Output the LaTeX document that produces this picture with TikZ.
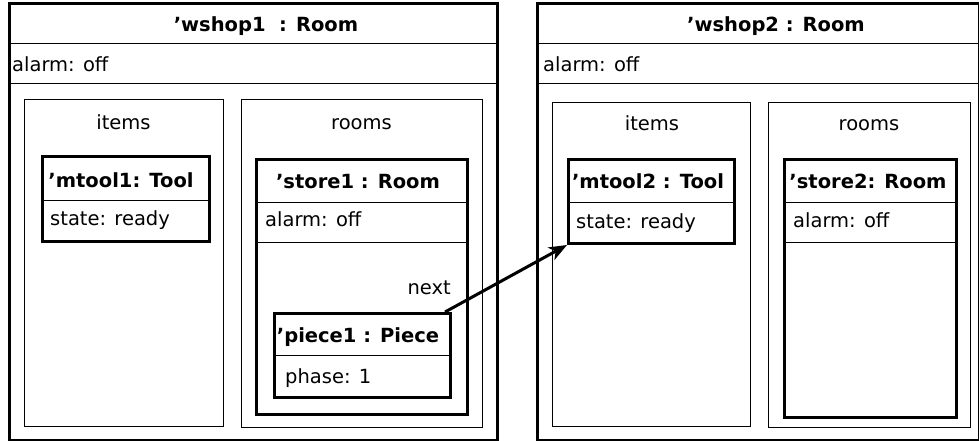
\documentclass[tikz,border=0pt]{standalone}
\usepackage{fontspec}
\setmainfont{DejaVu Sans}
\usetikzlibrary{arrows.meta}
\begin{document}
\begin{tikzpicture}[x=1pt,y=-1pt,
  outer/.style={draw, line width=3pt, anchor=north west, inner sep=0pt},
  thinbox/.style={draw, line width=1pt, anchor=north west, inner sep=0pt},
  objbox/.style={draw, line width=3pt, anchor=north west, inner sep=0pt},
  sep/.style={line width=1pt},
  lbl/.style={font=\fontsize{19.5}{22}\selectfont, inner sep=0pt, anchor=base west},
  ttl/.style={font=\fontsize{19.5}{22}\selectfont\bfseries, inner sep=0pt, anchor=base},
  ctr/.style={font=\fontsize{19.5}{22}\selectfont, inner sep=0pt, anchor=base},
  link/.style={line width=3pt, -{Stealth[length=18pt,width=14pt,inset=5pt]}}
]
\useasboundingbox (0,0) rectangle (979,441);

% left workshop
\node[outer, minimum width=488pt, minimum height=437pt] (wshop1) at (8,2) {};
\draw[sep] (wshop1.west |- 0,44) -- (wshop1.east |- 0,44);
\draw[sep] (wshop1.west |- 0,84) -- (wshop1.east |- 0,84);
\node[ttl] (t1) at (266,32) {’wshop1~~: Room};
\node[lbl] (a1) at (12,72) {alarm: off};

\node[thinbox, minimum width=199pt, minimum height=327pt] (items1) at (24,99) {};
\node[ctr] (il1) at (123.5,129) {items};
\node[thinbox, minimum width=241pt, minimum height=328pt] (rooms1) at (241,99) {};
\node[ctr] (rl1) at (361.5,129) {rooms};

\node[objbox, minimum width=167pt, minimum height=85pt] (mtool1) at (41,155) {};
\draw[sep] (mtool1.west |- 0,200) -- (mtool1.east |- 0,200);
\node[ttl] (mt1) at (121,187) {’mtool1: Tool};
\node[lbl] (s1) at (50,225) {state: ready};

\node[objbox, minimum width=211pt, minimum height=255pt] (store1) at (255,158) {};
\draw[sep] (store1.west |- 0,202) -- (store1.east |- 0,202);
\draw[sep] (store1.west |- 0,242) -- (store1.east |- 0,242);
\node[ttl] (st1) at (358,188) {’store1 : Room};
\node[lbl] (sa1) at (265,226) {alarm: off};

\node[objbox, minimum width=176pt, minimum height=84pt] (piece1) at (273,312) {};
\draw[sep] (piece1.west |- 0,355) -- (piece1.east |- 0,355);
\node[ttl] (pt1) at (358,342) {’piece1 : Piece};
\node[lbl] (ph1) at (285,383) {phase: 1};

% right workshop
\node[outer, minimum width=442pt, minimum height=437pt] (wshop2) at (536,2) {};
\draw[sep] (wshop2.west |- 0,44) -- (wshop2.east |- 0,44);
\draw[sep] (wshop2.west |- 0,84) -- (wshop2.east |- 0,84);
\node[ttl] (t2) at (776,32) {’wshop2 : Room};
\node[lbl] (a2) at (543,72) {alarm: off};

\node[thinbox, minimum width=198pt, minimum height=324pt] (items2) at (552,102) {};
\node[ctr] (il2) at (652,130) {items};
\node[thinbox, minimum width=202pt, minimum height=325pt] (rooms2) at (768,102) {};
\node[ctr] (rl2) at (869,130) {rooms};

\node[objbox, minimum width=166pt, minimum height=84pt] (mtool2) at (567,158) {};
\draw[sep] (mtool2.west |- 0,202) -- (mtool2.east |- 0,202);
\node[ttl] (mt2) at (648,188) {’mtool2 : Tool};
\node[lbl] (s2) at (576,228) {state: ready};

\node[objbox, minimum width=172pt, minimum height=258pt] (store2) at (783,158) {};
\draw[sep] (store2.west |- 0,202) -- (store2.east |- 0,202);
\draw[sep] (store2.west |- 0,242) -- (store2.east |- 0,242);
\node[ttl] (st2) at (868,188) {’store2: Room};
\node[lbl] (sa2) at (793,227) {alarm: off};

% link
\node[ctr, anchor=base east] (nx) at (451,294) {next};
\draw[link] ([xshift=-7pt]piece1.north east) -- (mtool2.south west);
\end{tikzpicture}
\end{document}
